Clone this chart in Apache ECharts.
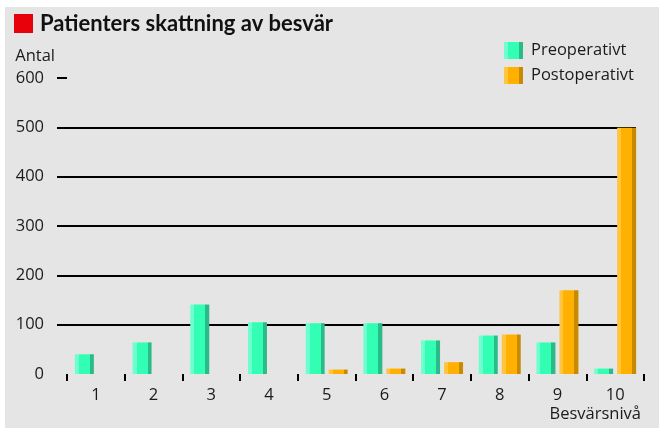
<!DOCTYPE html>
<html lang="sv">

<head>
    <title>Patienters skattning av besvär</title>
    <meta charset="utf-8">
    <style>
        html, body {
            margin: 0;
            padding: 0;
            background-color: white;
        }
    </style>
</head>

<body>
    <div id="chart" style="width: 659px; height: 428px"></div>
    <script src="https://cdn.jsdelivr.net/npm/echarts@6/dist/echarts.min.js"></script>
    <script>
        var levels = ["1", "2", "3", "4", "5", "6", "7", "8", "9", "10"];
        var preop = [40, 64, 141, 105, 103, 103, 68, 78, 64, 11];
        var postop = [0, 0, 0, 0, 9, 11, 24, 80, 170, 499];
        var yTicks = [0, 100, 200, 300, 400, 500, 600];

        var textColor = "#1a1a1a";
        var bodyFont = "'Open Sans', sans-serif";

        // flat 3d look: light strip left, dark strip right
        function barColor(light, main, dark) {
            return new echarts.graphic.LinearGradient(0, 0, 1, 0, [
                { offset: 0, color: light },
                { offset: 0.21, color: light },
                { offset: 0.21, color: main },
                { offset: 0.79, color: main },
                { offset: 0.79, color: dark },
                { offset: 1, color: dark }
            ]);
        }

        var chart = echarts.init(document.getElementById("chart"));

        chart.setOption({
            backgroundColor: "#ffffff",
            animation: false,
            textStyle: { fontFamily: bodyFont, color: textColor },
            graphic: [{
                type: "rect",
                left: 5,
                top: 7,
                z: -10,
                shape: { width: 654, height: 421 },
                style: { fill: "#e5e5e5" }
            }],
            title: {
                left: 14,
                top: 14,
                padding: 0,
                text: "{box|}{t|Patienters skattning av besvär}",
                textStyle: {
                    rich: {
                        box: { width: 19, height: 19, backgroundColor: "#e8000b" },
                        t: {
                            fontFamily: "Lato, sans-serif",
                            fontWeight: "bold",
                            fontSize: 22,
                            lineHeight: 19,
                            color: "#111111",
                            padding: [0, 0, 0, 7]
                        }
                    }
                }
            },
            legend: {
                orient: "vertical",
                left: 504,
                top: 42,
                padding: 0,
                itemWidth: 19,
                itemHeight: 17,
                itemGap: 8,
                icon: "rect",
                textStyle: {
                    fontFamily: bodyFont,
                    fontSize: 16.5,
                    lineHeight: 17,
                    color: textColor,
                    padding: [0, 0, 0, 3]
                },
                data: ["Preoperativt", "Postoperativt"]
            },
            grid: [
                { left: 67, right: 15, top: 78, bottom: 54 },
                { left: 57, right: 23, top: 78, bottom: 54 }
            ],
            xAxis: [{
                type: "category",
                gridIndex: 0,
                data: levels,
                axisLine: { show: false },
                axisTick: { show: true, length: 7, lineStyle: { color: "#000", width: 2 } },
                axisLabel: { fontSize: 16.5, color: textColor, margin: 13 },
                name: "Besvärsnivå",
                nameLocation: "end",
                nameGap: -3,
                nameTextStyle: {
                    fontSize: 16.5,
                    color: textColor,
                    align: "right",
                    verticalAlign: "top",
                    padding: [32, 0, 0, 0]
                }
            }, {
                type: "value",
                gridIndex: 1,
                show: false,
                min: 0,
                max: 1
            }],
            yAxis: [{
                // bar axis; only draws the short dash at the top value
                type: "value",
                gridIndex: 0,
                min: yTicks[0],
                max: yTicks[yTicks.length - 1],
                interval: 100,
                axisLine: { show: false },
                axisLabel: { show: false },
                splitLine: { show: false },
                axisTick: {
                    show: true,
                    length: 10,
                    customValues: [yTicks[yTicks.length - 1]],
                    lineStyle: { color: "#000", width: 2 }
                }
            }, {
                // labels and grid lines
                type: "value",
                gridIndex: 1,
                min: yTicks[0],
                max: yTicks[yTicks.length - 1],
                interval: 100,
                axisLine: { show: false },
                axisTick: { show: false },
                axisLabel: { fontSize: 16.5, color: textColor, margin: 13 },
                splitLine: {
                    show: true,
                    lineStyle: {
                        width: 2,
                        color: ["rgba(0,0,0,0)", "#000", "#000", "#000", "#000", "#000", "rgba(0,0,0,0)"]
                    }
                },
                name: "Antal",
                nameLocation: "end",
                nameGap: 22,
                nameTextStyle: {
                    fontSize: 16.5,
                    color: textColor,
                    align: "right",
                    verticalAlign: "middle",
                    padding: [0, 2, 0, 0]
                }
            }],
            series: [{
                name: "Preoperativt",
                type: "bar",
                xAxisIndex: 0,
                yAxisIndex: 0,
                barWidth: 19,
                barGap: "21%",
                itemStyle: { color: barColor("#6dffcf", "#33ffb4", "#2abb88") },
                data: preop
            }, {
                name: "Postoperativt",
                type: "bar",
                xAxisIndex: 0,
                yAxisIndex: 0,
                barWidth: 19,
                barGap: "21%",
                itemStyle: { color: barColor("#ffc53d", "#ffb000", "#c78a00") },
                data: postop
            }]
        });
    </script>
</body>

</html>
